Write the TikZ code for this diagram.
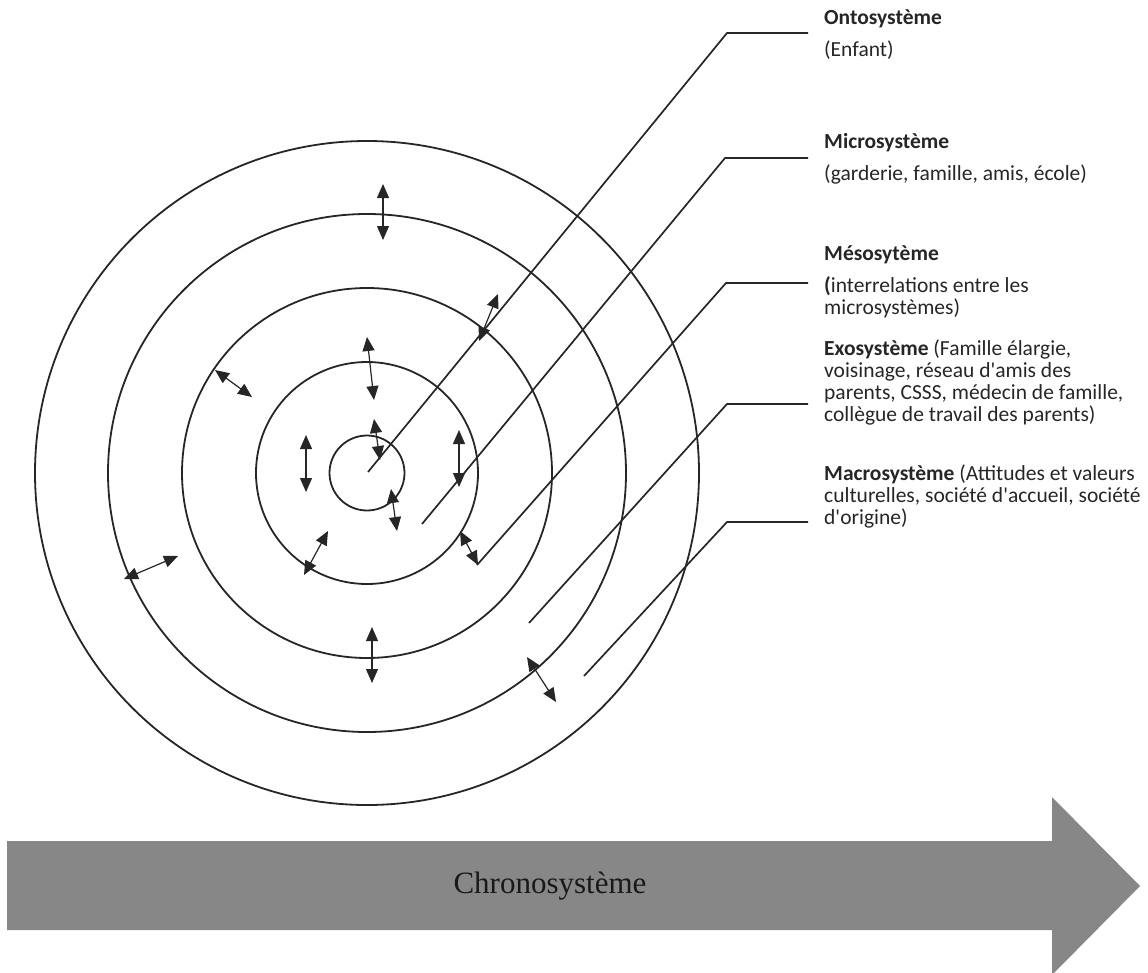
\documentclass[tikz,border=0pt]{standalone}
\usepackage{fontspec}
\newfontfamily\calf{Carlito}
\newfontfamily\timesf{Liberation Serif}
\usetikzlibrary{arrows.meta}
\begin{document}
\begin{tikzpicture}[x=1pt,y=-1pt,
  ring/.style={circle, draw=black!85, line width=1.8pt, inner sep=0pt},
  dbl/.style={line width=1.2pt, draw=black!85, {Triangle[length=14pt,width=12pt]}-{Triangle[length=14pt,width=12pt]}},
  lead/.style={line width=1.7pt, draw=black!85},
  lbl/.style={anchor=base west, font=\calf\fontsize{21.5}{22}\selectfont, align=left, inner sep=0pt, text=black!85},
  chrono/.style={fill={rgb,255:red,135;green,135;blue,135}, draw=none}]
\useasboundingbox (0,0) rectangle (1148,972);

% rings
\node[ring, minimum size=664pt] (r5) at (367,473) {};
\node[ring, minimum size=518pt] (r4) at (367,473) {};
\node[ring, minimum size=370pt] (r3) at (367,473) {};
\node[ring, minimum size=222pt] (r2) at (367,473) {};
\node[ring, minimum size=75pt]  (r1) at (367,473) {};

% double arrows
\draw[dbl] (383,184) -- (383,240);
\draw[dbl] (479,341) -- (498,294);
\draw[dbl] (215,370) -- (252,397);
\draw[dbl] (367,337) -- (374,400);
\draw[dbl] (374,419) -- (380,460);
\draw[dbl] (306,435) -- (306,492);
\draw[dbl] (459,430) -- (459,487);
\draw[dbl] (391,489) -- (397,531);
\draw[dbl] (304,575) -- (328,531);
\draw[dbl] (460,531) -- (478,565);
\draw[dbl] (124,579) -- (178,556);
\draw[dbl] (372,627) -- (372,683);
\draw[dbl] (527,657) -- (556,702);

% labels (base anchor = baseline of last line)
\node[lbl] (onto)  at (824,24)  {\textbf{Ontosystème}};
\node[lbl] (ontod) at (824,56)  {(Enfant)};
\node[lbl] (micro) at (824,148) {\textbf{Microsystème}};
\node[lbl] (microd) at (824,180) {(garderie, famille, amis, école)};
\node[lbl] (meso)  at (824,260) {\textbf{Mésosytème}};
\node[lbl] (mesod) at (824,314) {\textbf{(}interrelations entre les\\microsystèmes)};
\node[lbl] (exo)   at (824,421) {\textbf{Exosystème} (Famille élargie,\\voisinage, réseau d'amis des\\parents, CSSS, médecin de famille,\\collègue de travail des parents)};
\node[lbl] (macro) at (824,524) {\textbf{Macrosystème} (Attitudes et valeurs\\culturelles, société d'accueil, société\\d'origine)};

% leader lines
\coordinate (s1) at (808,33);  \coordinate (k1) at (727,33);  \coordinate (e1) at (368,472);
\coordinate (s2) at (808,158); \coordinate (k2) at (725,158); \coordinate (e2) at (422,524);
\coordinate (s3) at (808,283); \coordinate (k3) at (726,283); \coordinate (e3) at (477,565);
\coordinate (s4) at (808,404); \coordinate (k4) at (727,404); \coordinate (e4) at (529,623);
\coordinate (s5) at (808,522); \coordinate (k5) at (727,522); \coordinate (e5) at (584,676);
\draw[lead] (s1) -- (k1) -- (e1);
\draw[lead] (s2) -- (k2) -- (e2);
\draw[lead] (s3) -- (k3) -- (e3);
\draw[lead] (s4) -- (k4) -- (e4);
\draw[lead] (s5) -- (k5) -- (e5);

% chronosystem arrow
\fill[chrono] (7,841) -- (1052,841) -- (1052,797) -- (1140,886) -- (1052,975) -- (1052,930) -- (7,930) -- cycle;
\node[font=\timesf\fontsize{31}{33}\selectfont, text=black!90, inner sep=0pt] (chr) at (550,886) {Chronosystème};
\end{tikzpicture}
\end{document}
